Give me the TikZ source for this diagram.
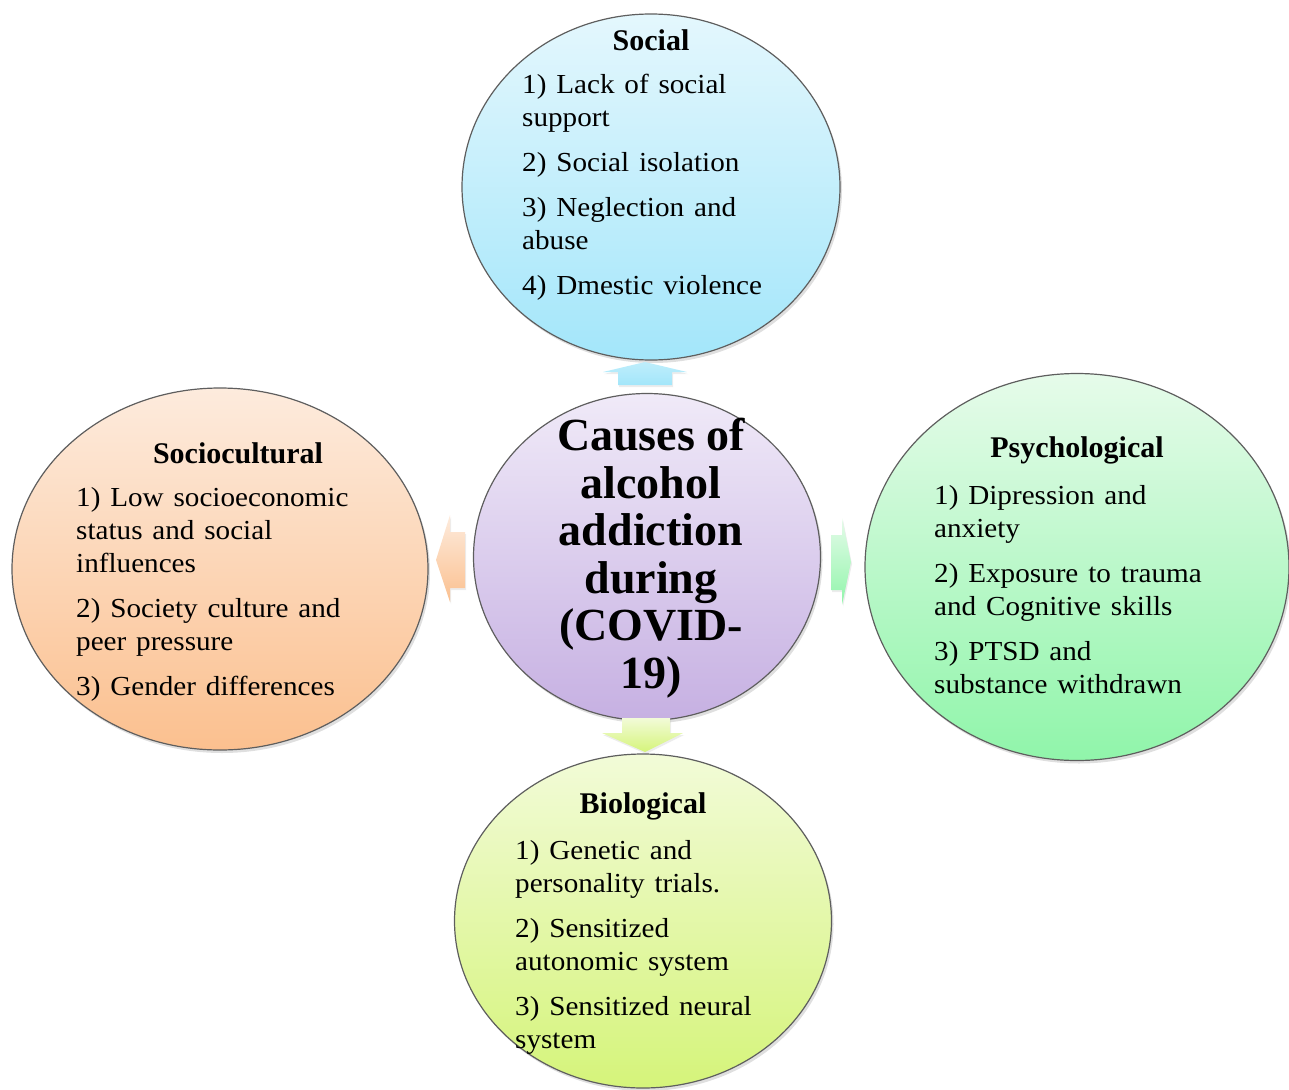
\documentclass[tikz,border=0pt]{standalone}
\usepackage{fontspec}
\setmainfont{Liberation Serif}
\newfontfamily\itemfont{Liberation Serif}[FakeStretch=1.06, WordSpace=1.35]
\usetikzlibrary{shapes.geometric,shadows}

\definecolor{socialTop}{HTML}{E4F7FD}
\definecolor{socialBot}{HTML}{A3E6FA}
\definecolor{causesTop}{HTML}{F0EAF8}
\definecolor{causesBot}{HTML}{C6B0E2}
\definecolor{cultureTop}{HTML}{FDEBDD}
\definecolor{cultureBot}{HTML}{FBC08F}
\definecolor{psychTop}{HTML}{E6FBEA}
\definecolor{psychBot}{HTML}{90F5AA}
\definecolor{bioTop}{HTML}{F2FBD8}
\definecolor{bioBot}{HTML}{D5F47A}
\definecolor{rim}{HTML}{5E5E5E}

\tikzset{
  bubble/.style={ellipse, draw=rim, line width=1.2pt, inner sep=0pt,
    drop shadow={opacity=.25, shadow xshift=2pt, shadow yshift=-3pt}},
  heading/.style={font=\fontsize{30}{33}\selectfont\bfseries, inner sep=0pt},
  items/.style={font=\itemfont\fontsize{27.5}{33}\selectfont, align=left, anchor=north west, inner sep=0pt},
  blockarrow/.style={drop shadow={opacity=.15, shadow xshift=1pt, shadow yshift=-2pt}},
}

\begin{document}
\begin{tikzpicture}[x=1pt,y=-1pt]
\useasboundingbox (0,0) rectangle (1289,1089);

% bubbles
\node[bubble, minimum width=378pt, minimum height=346pt, top color=socialTop, bottom color=socialBot] (social) at (651,187) {};
\node[bubble, minimum width=347pt, minimum height=327pt, top color=causesTop, bottom color=causesBot] (causes) at (647,557) {};
\node[bubble, minimum width=416pt, minimum height=362pt, top color=cultureTop, bottom color=cultureBot] (culture) at (220,569) {};
\node[bubble, minimum width=424pt, minimum height=387pt, top color=psychTop, bottom color=psychBot] (psych) at (1077,567) {};
\node[bubble, minimum width=377pt, minimum height=334pt, top color=bioTop, bottom color=bioBot] (bio) at (643,921) {};

% block arrows
\shade[blockarrow, top color=socialBot!70, bottom color=socialBot] (618,385) -- (618,372) -- (603,372) -- (645,362) -- (687,372) -- (672,372) -- (672,385) -- cycle;
\shade[blockarrow, top color=cultureTop, bottom color=cultureBot] (465,532) -- (450,532) -- (450,515) -- (436,560) -- (450,602) -- (450,588) -- (465,588) -- cycle;
\shade[blockarrow, top color=psychTop, bottom color=psychBot] (831,535) -- (842,535) -- (842,518) -- (851,562) -- (842,605) -- (842,590) -- (831,590) -- cycle;
\shade[blockarrow, top color=bioTop, bottom color=bioBot] (622,718) -- (670,718) -- (670,733) -- (683,733) -- (645,752) -- (602,733) -- (622,733) -- cycle;

% centre text
\node[font=\fontsize{46}{47.5}\selectfont\bfseries, align=center, inner sep=0pt] (causesT) at (651,558)
  {Causes of\\ alcohol\\ addiction\\ during\\ (COVID-\\ 19)};

% social
\node[heading] (socialT) at (651,40) {Social};
\node[items] (socialL) at (522,74) {1) Lack of social\\ support\\[12pt]
  2) Social isolation\\[12pt]
  3) Neglection and\\ abuse\\[12pt]
  4) Dmestic violence};

% sociocultural
\node[heading] (cultureT) at (238,453) {Sociocultural};
\node[items] (cultureL) at (76,487) {1) Low socioeconomic\\ status and social\\ influences\\[12pt]
  2) Society culture and\\ peer pressure\\[12pt]
  3) Gender differences};

% psychological
\node[heading] (psychT) at (1077,450) {Psychological};
\node[items] (psychL) at (934,485) {1) Dipression and\\ anxiety\\[12pt]
  2) Exposure to trauma\\ and Cognitive skills\\[12pt]
  3) PTSD and\\ substance withdrawn};

% biological
\node[heading] (bioT) at (643,806) {Biological};
\node[items] (bioL) at (515,840) {1) Genetic and\\ personality trials.\\[12pt]
  2) Sensitized\\ autonomic system\\[12pt]
  3) Sensitized neural\\ system};
\end{tikzpicture}
\end{document}
